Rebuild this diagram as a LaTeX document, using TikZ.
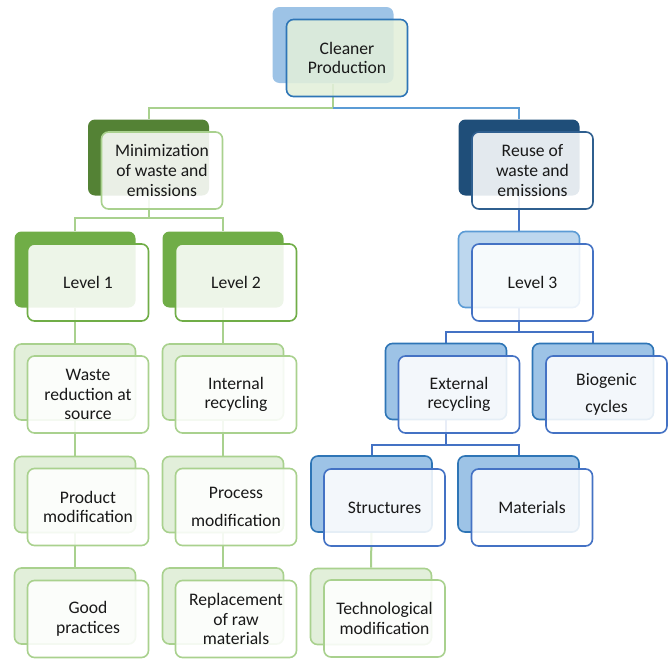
\documentclass[tikz,border=0pt]{standalone}
\usepackage{fontspec}
\setmainfont{Carlito}
\usetikzlibrary{backgrounds}

\definecolor{palegreen}{HTML}{E2EFDA}
\definecolor{lightgreen}{HTML}{A9D18E}
\definecolor{midgreen}{HTML}{70AD47}
\definecolor{darkgreen}{HTML}{548235}
\definecolor{paleblue}{HTML}{BDD7EE}
\definecolor{lightblue}{HTML}{9DC3E6}
\definecolor{midblue}{HTML}{4472C4}
\definecolor{lineblue}{HTML}{5B9BD5}
\definecolor{strongblue}{HTML}{2E75B6}
\definecolor{darkblue}{HTML}{1F4E79}
\definecolor{navyline}{HTML}{2F5F8F}

\begin{document}
\begin{tikzpicture}[x=1pt,y=-1pt,font=\fontsize{17.6}{19.6}\selectfont,line width=1.6pt]
        \tikzstyle{box}=[rectangle, rounded corners=7pt, minimum width=121pt, minimum height=76pt, inner sep=0pt, align=center]
        \tikzstyle{front}=[box, fill=white, fill opacity=0.88, text opacity=1, minimum height=77pt, text=black!90]
        \tikzstyle{gline}=[draw=lightgreen, line width=2pt]
        \tikzstyle{bline}=[draw=midblue, line width=2pt]

        \useasboundingbox (0,0) rectangle (672,659);

        % top
        \node[box, fill=lightblue]                        (cpb)  at (333,45)     {};
        \node[front, draw=strongblue, fill=palegreen]     (cp)   at (347,58)     {Cleaner\\Production};

        % second row
        \node[box, fill=darkgreen]                        (minb) at (148.5,157.5) {};
        \node[front, draw=lightgreen]                     (min)  at (162,170.5)  {Minimization\\of waste and\\emissions};
        \node[box, fill=darkblue]                         (reub) at (519,157.5)  {};
        \node[front, draw=navyline]                       (reu)  at (532.5,170.5) {Reuse of\\waste and\\emissions};

        % levels
        \node[box, fill=midgreen]                         (l1b)  at (75,269.5)   {};
        \node[front, draw=midgreen]                       (l1)   at (88,282.5)   {Level 1};
        \node[box, fill=midgreen]                         (l2b)  at (223,269.5)  {};
        \node[front, draw=midgreen]                       (l2)   at (236,282.5)  {Level 2};
        \node[box, fill=paleblue, draw=lineblue]          (l3b)  at (519,269.5)  {};
        \node[front, draw=midblue]                        (l3)   at (532.5,282.5) {Level 3};

        % level 1 column
        \node[box, fill=palegreen, draw=lightgreen]       (wasb) at (75,382)     {};
        \node[front, draw=lightgreen]                     (was)  at (88,394.5)   {Waste\\reduction at\\source};
        \node[box, fill=palegreen, draw=lightgreen]       (prob) at (75,494.5)   {};
        \node[front, draw=lightgreen]                     (pro)  at (88,507)     {Product\\modification};
        \node[box, fill=palegreen, draw=lightgreen]       (goob) at (75,606)     {};
        \node[front, draw=lightgreen]                     (goo)  at (88,619)     {Good\\practices};

        % level 2 column
        \node[box, fill=palegreen, draw=lightgreen]       (intb) at (223,382)    {};
        \node[front, draw=lightgreen]                     (int)  at (236,394.5)  {Internal\\recycling};
        \node[box, fill=palegreen, draw=lightgreen]       (prcb) at (223,494.5)  {};
        \node[front, draw=lightgreen]                     (prc)  at (236,507)    {Process\\[8pt]modification};
        \node[box, fill=palegreen, draw=lightgreen]       (repb) at (223,606)    {};
        \node[front, draw=lightgreen]                     (rep)  at (236,619)    {Replacement\\of raw\\materials};

        % level 3 tree
        \node[box, fill=lightblue, draw=strongblue]       (extb) at (446,381.5)  {};
        \node[front, draw=midblue]                        (ext)  at (459,394.5)  {External\\recycling};
        \node[box, fill=lightblue, draw=strongblue]       (biob) at (593,381.5)  {};
        \node[front, draw=midblue]                        (bio)  at (606.5,394.5) {Biogenic\\[7pt]cycles};
        \node[box, fill=lightblue, draw=strongblue]       (strb) at (371.5,494)  {};
        \node[front, draw=midblue]                        (str)  at (384.5,507.5) {Structures};
        \node[box, fill=lightblue, draw=strongblue]       (matb) at (518.5,494)  {};
        \node[front, draw=midblue]                        (mat)  at (532,507.5)  {Materials};
        \node[box, fill=palegreen, draw=lightgreen]       (tecb) at (371,606.5)  {};
        \node[front, draw=lightgreen]                     (tec)  at (384.5,618.5) {Technological\\modification};

        \begin{scope}[on background layer]
          \draw[gline] (cpb.south) -- ++(0,24) -| (minb.north);
          \draw[bline, draw=lineblue] (cpb.south) ++(0,24) -| (reub.north);
          \draw[gline] (minb.south) -- ++(0,22) -| (l1b.north);
          \draw[gline] (minb.south) ++(0,22) -| (l2b.north);
          \draw[bline] (reub.south) -- (l3b.north);
          \draw[gline] (l1b.south) -- (wasb.north) (wasb.south) -- (prob.north) (prob.south) -- (goob.north);
          \draw[gline] (l2b.south) -- (intb.north) (intb.south) -- (prcb.north) (prcb.south) -- (repb.north);
          \draw[bline] (l3b.south) -- ++(0,24) -| (extb.north);
          \draw[bline] (l3b.south) ++(0,24) -| (biob.north);
          \draw[bline] (extb.south) -- ++(0,25) -| (strb.north);
          \draw[bline] (extb.south) ++(0,25) -| (matb.north);
          \draw[gline] (strb.south) -- (tecb.north);
        \end{scope}
\end{tikzpicture}
\end{document}
